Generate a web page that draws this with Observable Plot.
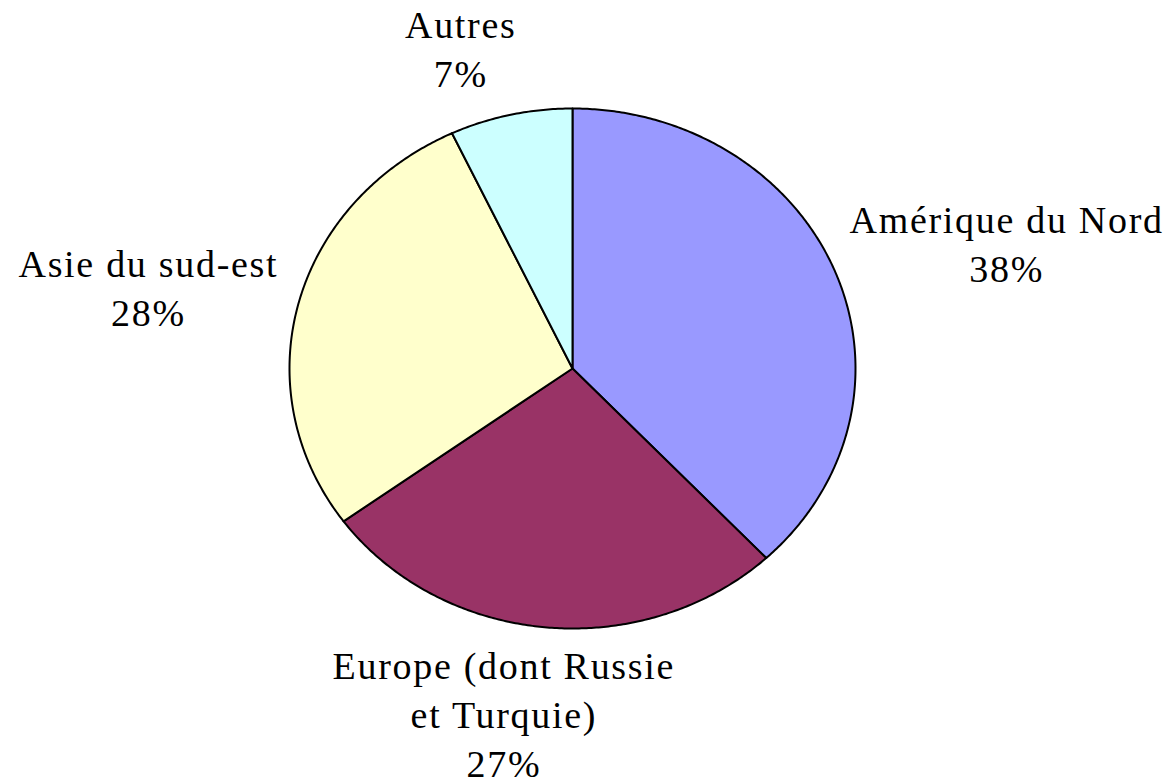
<!DOCTYPE html>
<html><head><meta charset="utf-8">
<script src="https://cdn.jsdelivr.net/npm/d3@7"></script>
<script src="https://cdn.jsdelivr.net/npm/@observablehq/plot@0.6"></script>
<style>body{margin:0;background:#fff;overflow:hidden;}</style>
</head><body><div id="chart"></div>
<script>
// ---- data ----
const regions = ["Amérique du Nord", "Europe (dont Russie\net Turquie)", "Asie du sud-est", "Autres"];
const shares = [38, 27, 28, 7];
const colors = ["#9999FF", "#993366", "#FFFFCC", "#CCFFFF"];

// ---- layout ----
const W = 1168, H = 784;
const cx = 572, cy = 368, rx = 283, ry = 260;
// label nudges (pixels) from the slice mid-angle point on the rim
const labelNudge = [[171, -31], [-42, 85], [-150, -18], [-50, -68]];

const arcs = d3.pie().sort(null).value(d => d)(shares);

const slicePts = [];
arcs.forEach((a, i) => {
  const n = Math.max(2, Math.ceil((a.endAngle - a.startAngle) / (Math.PI / 360)));
  slicePts.push({name: regions[i], x: 0, y: 0});
  for (let k = 0; k <= n; k++) {
    const t = a.startAngle + (a.endAngle - a.startAngle) * k / n;
    slicePts.push({name: regions[i], x: Math.sin(t), y: Math.cos(t)});
  }
  slicePts.push({name: regions[i], x: 0, y: 0});
});

const labels = arcs.map((a, i) => {
  const m = (a.startAngle + a.endAngle) / 2;
  return {
    text: regions[i] + "\n" + shares[i] + "%",
    x: Math.sin(m) + labelNudge[i][0] / rx,
    y: Math.cos(m) - labelNudge[i][1] / ry
  };
});

const chart = Plot.plot({
  width: W, height: H,
  marginTop: 0, marginRight: 0, marginBottom: 0, marginLeft: 0,
  x: {domain: [-1, 1], range: [cx - rx, cx + rx], axis: null},
  y: {domain: [-1, 1], range: [cy + ry, cy - ry], axis: null},
  color: {domain: regions, range: colors},
  style: {fontFamily: "'Liberation Serif', 'Times New Roman', serif", letterSpacing: "1.7px", background: "#fff"},
  marks: [
    Plot.line(slicePts, {x: "x", y: "y", z: "name", fill: "name", stroke: "black", strokeWidth: 2, strokeLinejoin: "round", curve: "linear"}),
    Plot.text(labels, {x: "x", y: "y", text: "text", fontSize: 38, lineHeight: 1.28, fill: "black", textAnchor: "middle", lineAnchor: "middle"})
  ]
});
document.getElementById("chart").appendChild(chart);
</script>
</body></html>
